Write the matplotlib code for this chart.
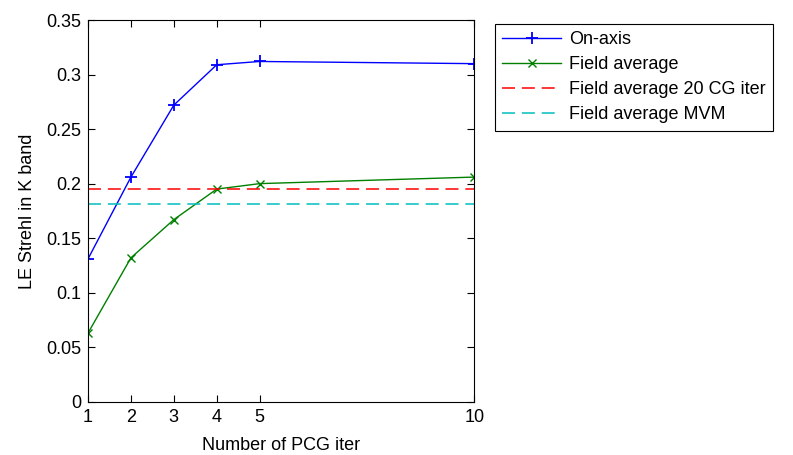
import matplotlib

matplotlib.use("Agg")
import matplotlib.pyplot as plt

plt.rcParams["font.family"] = ["Liberation Sans", "DejaVu Sans"]

# PCG iterations and long-exposure Strehl in K band
iters = [1, 2, 3, 4, 5, 10]
on_axis = [0.131, 0.206, 0.272, 0.309, 0.312, 0.310]
field_avg = [0.063, 0.132, 0.167, 0.195, 0.200, 0.206]
cg20_level = 0.195
mvm_level = 0.181

FS = 13
dash = (0, (8.5, 4.5))

fig = plt.figure(figsize=(7.93, 4.55), dpi=100)
ax = fig.add_axes([0.111, 0.117, 0.487, 0.839])

ax.plot(iters, on_axis, color=(0, 0, 1), lw=1, marker="+", ms=9, mew=1.3, label="On-axis")
ax.plot(iters, field_avg, color=(0, 0.5, 0), lw=1, marker="x", ms=6, mew=1, label="Field average")
ax.plot([iters[0], iters[-1]], [cg20_level] * 2, color=(1, 0, 0), lw=1.1,
        ls=dash, label="Field average 20 CG iter")
ax.plot([iters[0], iters[-1]], [mvm_level] * 2, color=(0, 0.75, 0.75), lw=1.1,
        ls=dash, label="Field average MVM")

ax.set_xlim(1, 10)
ax.set_ylim(0, 0.35)
ax.set_xticks(iters)
ax.set_yticks([0, 0.05, 0.1, 0.15, 0.2, 0.25, 0.3, 0.35])
ax.set_yticklabels(["0", "0.05", "0.1", "0.15", "0.2", "0.25", "0.3", "0.35"])
ax.tick_params(direction="in", top=True, right=True, labelsize=FS, length=5, width=0.8, pad=5)
for s in ax.spines.values():
    s.set_linewidth(0.8)
ax.set_xlabel("Number of PCG iter", fontsize=FS, labelpad=8)
ax.set_ylabel("LE Strehl in K band", fontsize=FS, labelpad=7)

leg = ax.legend(loc="upper left", bbox_to_anchor=(1.053, 0.99), fontsize=FS,
                fancybox=False, edgecolor="black", framealpha=1,
                handlelength=3.3, handletextpad=0.4, borderaxespad=0,
                labelspacing=0.45, borderpad=0.4)
leg.get_frame().set_linewidth(0.8)

fig.savefig("out.png", dpi=100)
